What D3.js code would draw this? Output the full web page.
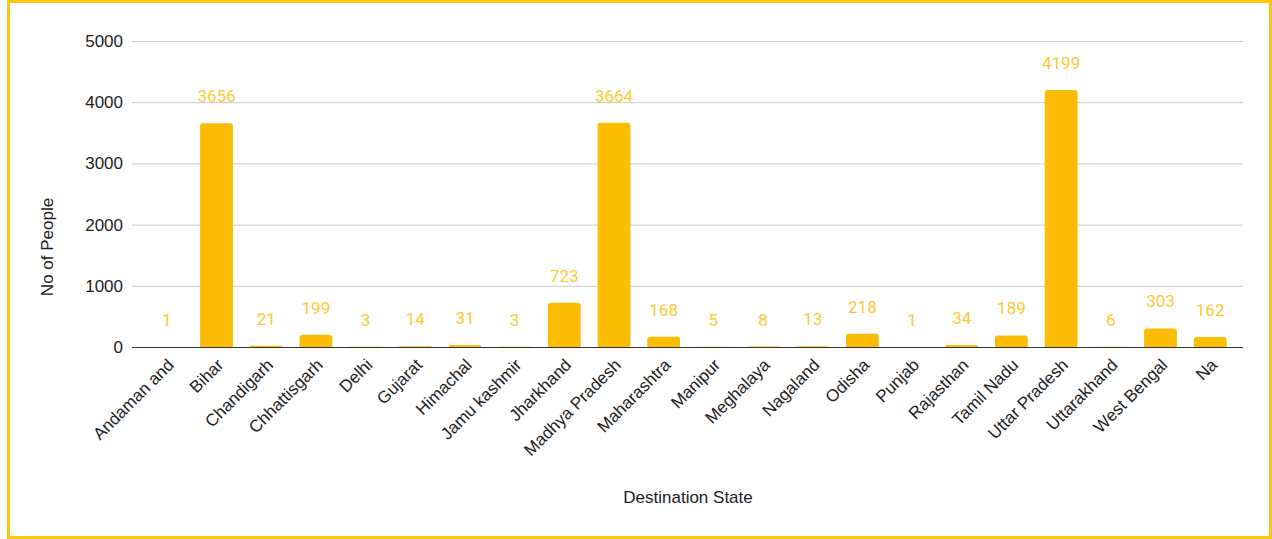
<!DOCTYPE html>
<html>
<head>
<meta charset="utf-8">
<script src="https://cdn.jsdelivr.net/npm/d3@7.9.0/dist/d3.min.js"></script>
<style>
  html, body { margin: 0; padding: 0; background: #fff; }
  svg { display: block; }
</style>
</head>
<body>
<svg id="chart" width="1272" height="539"></svg>
<script>
// data
const states = ["Andaman and", "Bihar", "Chandigarh", "Chhattisgarh", "Delhi", "Gujarat",
  "Himachal", "Jamu kashmir", "Jharkhand", "Madhya Pradesh", "Maharashtra", "Manipur",
  "Meghalaya", "Nagaland", "Odisha", "Punjab", "Rajasthan", "Tamil Nadu", "Uttar Pradesh",
  "Uttarakhand", "West Bengal", "Na"];
const people = [1, 3656, 21, 199, 3, 14, 31, 3, 723, 3664, 168, 5, 8, 13, 218, 1, 34, 189, 4199, 6, 303, 162];
const yTicks = [0, 1000, 2000, 3000, 4000, 5000];

const svg = d3.select("#chart");
const W = 1272, H = 539;

// yellow frame
svg.append("rect")
  .attr("x", 8.5).attr("y", 1.5)
  .attr("width", W - 10).attr("height", H - 3)
  .attr("fill", "#fff")
  .attr("stroke", "#fcc80f")
  .attr("stroke-width", 3);

const x = d3.scaleBand().domain(states).range([142, 1235]).paddingInner(0.34).paddingOuter(0.17);
const y = d3.scaleLinear().domain([0, 5000]).range([347, 41]);

// gridlines
svg.append("g")
  .selectAll("line")
  .data(yTicks.filter(d => d > 0))
  .join("line")
  .attr("x1", 132).attr("x2", 1243)
  .attr("y1", d => y(d) + 0.5).attr("y2", d => y(d) + 0.5)
  .attr("stroke", "#cccccc");

// y tick labels
svg.append("g")
  .selectAll("text")
  .data(yTicks)
  .join("text")
  .attr("x", 123).attr("y", d => y(d))
  .attr("dy", "0.35em")
  .attr("text-anchor", "end")
  .attr("font-family", "Liberation Sans, Arial, sans-serif")
  .attr("font-size", 17)
  .attr("fill", "#222")
  .text(d => d);

// bars with slightly rounded tops
const r = 3;
svg.append("g")
  .selectAll("path")
  .data(people)
  .join("path")
  .attr("fill", "#fbbc04")
  .attr("d", (d, i) => {
    const x0 = x(states[i]), w = x.bandwidth();
    const y0 = y(d), h = y(0) - y0;
    const rr = Math.min(r, h);
    return `M${x0},${y(0)}V${y0 + rr}Q${x0},${y0} ${x0 + rr},${y0}H${x0 + w - rr}Q${x0 + w},${y0} ${x0 + w},${y0 + rr}V${y(0)}Z`;
  });

// baseline
svg.append("line")
  .attr("x1", 132).attr("x2", 1243)
  .attr("y1", 347.5).attr("y2", 347.5)
  .attr("stroke", "#333");

// value labels
svg.append("g")
  .selectAll("text")
  .data(people)
  .join("text")
  .attr("x", (d, i) => x(states[i]) + x.bandwidth() / 2)
  .attr("y", d => y(d) - 21)
  .attr("text-anchor", "middle")
  .attr("font-family", "Roboto, sans-serif")
  .attr("font-size", 17)
  .attr("fill", "#fcc934")
  .text(d => d);

// x category labels
svg.append("g")
  .selectAll("text")
  .data(states)
  .join("text")
  .attr("transform", d => `translate(${x(d) + x.bandwidth() / 2 + 8},${366}) rotate(-45)`)
  .attr("text-anchor", "end")
  .attr("font-family", "Liberation Sans, Arial, sans-serif")
  .attr("font-size", 17)
  .attr("fill", "#222")
  .text(d => d);

// axis titles
svg.append("text")
  .attr("x", 688).attr("y", 503)
  .attr("text-anchor", "middle")
  .attr("font-family", "Liberation Sans, Arial, sans-serif")
  .attr("font-size", 17)
  .attr("fill", "#222")
  .text("Destination State");

svg.append("text")
  .attr("transform", "translate(53,247) rotate(-90)")
  .attr("text-anchor", "middle")
  .attr("font-family", "Liberation Sans, Arial, sans-serif")
  .attr("font-size", 17)
  .attr("fill", "#222")
  .text("No of People");
</script>
</body>
</html>
